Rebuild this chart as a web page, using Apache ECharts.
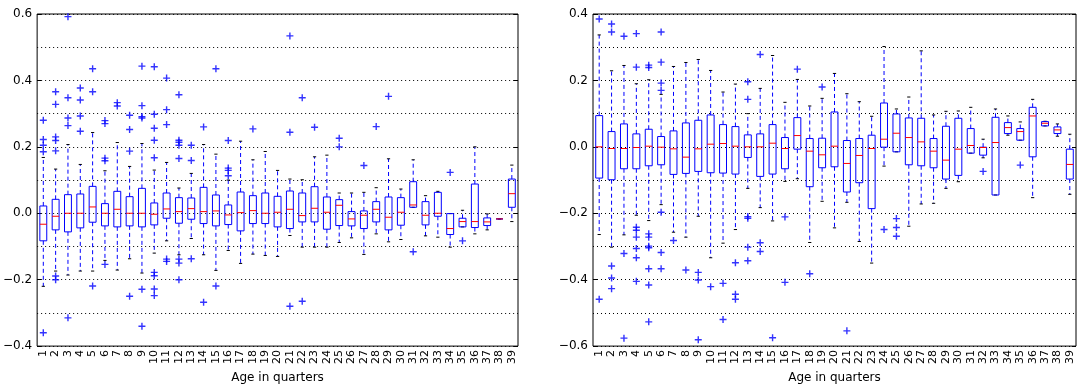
<!DOCTYPE html>
<html>
<head>
<meta charset="utf-8">
<script src="https://cdn.jsdelivr.net/npm/echarts@6/dist/echarts.min.js"></script>
<style>
  html, body { margin: 0; padding: 0; background: #fff; }
  #main { width: 1078px; height: 389px; }
</style>
</head>
<body>
<div id="main"></div>
<script>
// age categories 1..39
const ages = ['1','2','3','4','5','6','7','8','9','10','11','12','13','14','15','16','17','18','19','20',
  '21','22','23','24','25','26','27','28','29','30','31','32','33','34','35','36','37','38','39'];

// [lower whisker, q1, median, q3, upper whisker] per age
const leftBoxes = [
  [-0.220, -0.083, -0.033, 0.022, 0.168],
  [-0.174, -0.050, -0.009, 0.042, 0.133],
  [-0.186, -0.056, 0.000, 0.056, 0.207],
  [-0.174, -0.044, 0.000, 0.058, 0.147],
  [-0.174, -0.027, 0.019, 0.081, 0.243],
  [-0.142, -0.038, 0.000, 0.029, 0.128],
  [-0.171, -0.041, 0.012, 0.066, 0.213],
  [-0.137, -0.038, 0.000, 0.050, 0.141],
  [-0.180, -0.041, 0.000, 0.075, 0.210],
  [-0.120, -0.035, -0.003, 0.031, 0.130],
  [-0.083, -0.015, 0.013, 0.061, 0.153],
  [-0.125, -0.030, 0.005, 0.047, 0.076],
  [-0.076, -0.018, 0.014, 0.046, 0.120],
  [-0.125, -0.031, 0.005, 0.078, 0.207],
  [-0.172, -0.038, 0.007, 0.055, 0.178],
  [-0.112, -0.034, -0.005, 0.025, 0.100],
  [-0.151, -0.053, 0.002, 0.064, 0.217],
  [-0.123, -0.031, 0.008, 0.053, 0.161],
  [-0.127, -0.031, 0.000, 0.061, 0.186],
  [-0.130, -0.041, 0.003, 0.051, 0.129],
  [-0.067, -0.046, 0.012, 0.067, 0.103],
  [-0.102, -0.026, -0.007, 0.061, 0.101],
  [-0.102, -0.026, 0.015, 0.080, 0.170],
  [-0.102, -0.048, 0.003, 0.049, 0.175],
  [-0.088, -0.037, 0.024, 0.041, 0.061],
  [-0.074, -0.038, -0.017, 0.005, 0.061],
  [-0.124, -0.046, -0.006, 0.007, 0.063],
  [-0.062, -0.026, 0.012, 0.035, 0.077],
  [-0.086, -0.050, -0.012, 0.049, 0.164],
  [-0.079, -0.036, 0.003, 0.047, 0.073],
  [0.018, 0.018, 0.025, 0.095, 0.161],
  [-0.068, -0.035, -0.006, 0.035, 0.053],
  [-0.072, -0.009, 0.000, 0.063, 0.066],
  [-0.102, -0.064, -0.046, -0.001, -0.001],
  [-0.041, -0.041, -0.025, -0.015, 0.009],
  [-0.062, -0.043, -0.025, 0.088, 0.200],
  [-0.050, -0.037, -0.026, -0.014, -0.002],
  [-0.017, -0.017, -0.017, -0.017, -0.017],
  [-0.025, 0.018, 0.059, 0.103, 0.145]
];

// outliers: [age index, value]
const leftFliers = [
  [0, 0.280], [0, 0.222], [0, 0.205], [0, 0.185], [0, -0.360],
  [1, 0.366], [1, 0.328], [1, 0.230], [1, 0.219], [1, 0.188], [1, -0.189], [1, -0.200],
  [2, 0.592], [2, 0.348], [2, 0.287], [2, 0.264], [2, -0.315],
  [3, 0.377], [3, 0.341], [3, 0.293], [3, 0.247],
  [4, 0.435], [4, 0.366], [4, -0.219],
  [5, 0.279], [5, 0.270], [5, 0.166], [5, 0.158], [5, -0.154],
  [6, 0.333], [6, 0.323],
  [7, 0.295], [7, 0.252], [7, 0.187], [7, -0.250],
  [8, 0.443], [8, 0.324], [8, 0.291], [8, 0.287], [8, -0.229], [8, -0.340],
  [9, 0.441], [9, 0.298], [9, 0.256], [9, 0.220], [9, 0.167], [9, -0.178], [9, -0.188], [9, -0.228], [9, -0.248],
  [10, 0.407], [10, 0.312], [10, 0.267], [10, -0.138], [10, -0.145],
  [11, 0.357], [11, 0.220], [11, 0.214], [11, 0.205], [11, 0.165], [11, -0.138], [11, -0.150], [11, -0.200],
  [12, 0.205], [12, 0.159], [12, -0.137],
  [13, 0.260], [13, -0.268],
  [14, 0.435], [14, -0.219],
  [15, 0.219], [15, 0.136], [15, 0.129], [15, 0.113],
  [17, 0.254],
  [20, 0.534], [20, 0.244], [20, -0.280],
  [21, 0.348], [21, -0.265],
  [22, 0.259],
  [24, 0.226], [24, 0.200],
  [26, 0.144],
  [27, 0.261],
  [28, 0.352],
  [30, -0.116],
  [33, 0.123],
  [34, -0.083]
];

const rightBoxes = [
  [-0.264, -0.094, 0.000, 0.094, 0.337],
  [-0.302, -0.099, -0.005, 0.046, 0.229],
  [-0.265, -0.066, -0.005, 0.069, 0.245],
  [-0.206, -0.066, -0.002, 0.039, 0.190],
  [-0.222, -0.057, 0.002, 0.053, 0.202],
  [-0.174, -0.054, -0.001, 0.031, 0.158],
  [-0.257, -0.083, -0.006, 0.048, 0.242],
  [-0.272, -0.080, -0.031, 0.072, 0.254],
  [-0.209, -0.074, -0.006, 0.080, 0.263],
  [-0.334, -0.078, 0.008, 0.096, 0.230],
  [-0.290, -0.079, 0.010, 0.067, 0.165],
  [-0.249, -0.082, 0.002, 0.061, 0.189],
  [-0.125, -0.032, 0.000, 0.036, 0.100],
  [-0.183, -0.089, 0.000, 0.039, 0.176],
  [-0.223, -0.082, 0.011, 0.067, 0.275],
  [-0.104, -0.066, -0.005, 0.028, 0.134],
  [-0.096, -0.007, 0.034, 0.088, 0.203],
  [-0.288, -0.120, -0.013, 0.025, 0.123],
  [-0.164, -0.063, -0.024, 0.026, 0.146],
  [-0.244, -0.060, 0.002, 0.105, 0.221],
  [-0.167, -0.136, -0.050, 0.019, 0.160],
  [-0.285, -0.108, -0.026, 0.025, 0.136],
  [-0.350, -0.186, -0.005, 0.035, 0.092],
  [-0.058, -0.001, 0.023, 0.132, 0.302],
  [-0.015, -0.015, 0.041, 0.099, 0.114],
  [-0.239, -0.054, 0.028, 0.087, 0.150],
  [-0.172, -0.057, 0.015, 0.086, 0.289],
  [-0.170, -0.063, -0.013, 0.025, 0.096],
  [-0.125, -0.097, -0.040, 0.062, 0.107],
  [-0.105, -0.086, -0.007, 0.086, 0.108],
  [-0.019, -0.019, 0.004, 0.055, 0.119],
  [-0.033, -0.025, -0.002, -0.001, 0.023],
  [-0.145, -0.145, 0.013, 0.089, 0.114],
  [0.035, 0.040, 0.058, 0.073, 0.093],
  [0.020, 0.020, 0.046, 0.055, 0.075],
  [-0.153, -0.030, 0.093, 0.119, 0.143],
  [0.063, 0.063, 0.071, 0.076, 0.077],
  [0.032, 0.040, 0.051, 0.060, 0.069],
  [-0.143, -0.097, -0.053, -0.007, 0.038]
];

const rightFliers = [
  [0, 0.385], [0, -0.459],
  [1, 0.370], [1, 0.346], [1, -0.359], [1, -0.395], [1, -0.427],
  [2, 0.333], [2, -0.321], [2, -0.576],
  [3, 0.341], [3, 0.240], [3, -0.242], [3, -0.251], [3, -0.272], [3, -0.306], [3, -0.334], [3, -0.405],
  [4, 0.246], [4, 0.239], [4, -0.262], [4, -0.272], [4, -0.299], [4, -0.304], [4, -0.367], [4, -0.416], [4, -0.527],
  [5, 0.346], [5, 0.255], [5, 0.192], [5, 0.170], [5, -0.197], [5, -0.318], [5, -0.367],
  [6, -0.282],
  [7, -0.371],
  [8, -0.378], [8, -0.401], [8, -0.581],
  [9, -0.421],
  [10, -0.411], [10, -0.520],
  [11, -0.349], [11, -0.444], [11, -0.459],
  [12, 0.196], [12, 0.143], [12, -0.210], [12, -0.215], [12, -0.302], [12, -0.343],
  [13, 0.278], [13, -0.289], [13, -0.315],
  [14, -0.575],
  [15, -0.211], [15, -0.408],
  [16, 0.234],
  [17, -0.382],
  [18, 0.180],
  [20, -0.554],
  [23, -0.249],
  [24, -0.216], [24, -0.243], [24, -0.269],
  [31, -0.074],
  [34, -0.055]
];

const leftRange = [-0.4, 0.6];
const rightRange = [-0.6, 0.4];

(function() {
    let chart = echarts.init(document.getElementById('main'), null, {renderer: 'canvas'});
    let font = 'DejaVu Sans';
    let blue = '#0000ff';
    let plus = 'path://M4,0H6V4H10V6H6V10H4V6H0V4H4Z';

    function fmt(v) {
        if (Math.abs(v) < 1e-9) return '0.0';
        return (v < 0 ? '\u2212' : '') + Math.abs(v).toFixed(1);
    }

    // box, dashed whiskers, black caps, red median
    function renderBox(params, api) {
        let i = api.value(0);
        let bw = api.size([1, 0])[0];
        let x = api.coord([i, 0])[0];
        let yLow = api.coord([i, api.value(1)])[1];
        let yQ1 = api.coord([i, api.value(2)])[1];
        let yMed = api.coord([i, api.value(3)])[1];
        let yQ3 = api.coord([i, api.value(4)])[1];
        let yHigh = api.coord([i, api.value(5)])[1];
        let hb = bw * 0.28, hc = bw * 0.13;
        let dash = {stroke: blue, lineWidth: 1, lineDash: [4, 3]};
        let solid = function(c) { return {stroke: c, lineWidth: 1}; };
        return {
            type: 'group',
            children: [
                {type: 'line', shape: {x1: x, y1: yQ3, x2: x, y2: yHigh}, style: dash},
                {type: 'line', shape: {x1: x, y1: yQ1, x2: x, y2: yLow}, style: dash},
                {type: 'line', shape: {x1: x - hc, y1: yHigh, x2: x + hc, y2: yHigh}, style: solid('#000')},
                {type: 'line', shape: {x1: x - hc, y1: yLow, x2: x + hc, y2: yLow}, style: solid('#000')},
                {type: 'rect', shape: {x: x - hb, y: yQ3, width: hb * 2, height: yQ1 - yQ3},
                    style: {fill: 'none', stroke: blue, lineWidth: 1}},
                {type: 'line', shape: {x1: x - hb, y1: yMed, x2: x + hb, y2: yMed}, style: solid('#ff0000')}
            ]
        };
    }

    function gridOpt(left) {
        return {left: left, top: 14, width: 483, height: 340, show: true,
            borderColor: '#000', borderWidth: 1, backgroundColor: 'transparent'};
    }

    function xAxes(g) {
        return [{
            type: 'category', gridIndex: g, data: ages, position: 'bottom',
            name: 'Age in quarters', nameLocation: 'middle', nameGap: 24,
            nameTextStyle: {fontFamily: font, fontSize: 12, color: '#000'},
            axisLine: {show: false},
            axisTick: {inside: true, alignWithLabel: true, length: 4, lineStyle: {color: '#000'}},
            axisLabel: {rotate: 90, fontFamily: font, fontSize: 11, color: '#000', margin: 4, interval: 0},
            splitLine: {show: false}
        }, {
            type: 'category', gridIndex: g, data: ages, position: 'top',
            axisLine: {show: false},
            axisTick: {inside: true, alignWithLabel: true, length: 4, lineStyle: {color: '#000'}},
            axisLabel: {show: false},
            splitLine: {show: false}
        }];
    }

    function yAxes(g, range) {
        let dots = {color: '#000', width: 1, type: [1, 3]};
        return [{
            type: 'value', gridIndex: g, min: range[0], max: range[1], interval: 0.2, position: 'left',
            axisLine: {show: false},
            axisTick: {show: true, inside: true, length: 4, lineStyle: {color: '#000'}},
            axisLabel: {fontFamily: font, fontSize: 12, color: '#000', margin: 5, formatter: fmt},
            splitLine: {show: true, lineStyle: dots},
            minorTick: {show: false, splitNumber: 2},
            minorSplitLine: {show: true, lineStyle: dots}
        }, {
            type: 'value', gridIndex: g, min: range[0], max: range[1], interval: 0.2, position: 'right',
            axisLine: {show: false},
            axisTick: {show: true, inside: true, length: 4, lineStyle: {color: '#000'}},
            axisLabel: {show: false},
            splitLine: {show: false}
        }];
    }

    function boxSeries(boxes, g) {
        return {
            type: 'custom', xAxisIndex: g * 2, yAxisIndex: g * 2,
            renderItem: renderBox,
            encode: {x: 0, y: [1, 2, 3, 4, 5]},
            data: boxes.map(function(b, i) { return [i].concat(b); }),
            z: 3
        };
    }

    function flierSeries(fliers, g) {
        return {
            type: 'scatter', xAxisIndex: g * 2, yAxisIndex: g * 2,
            symbol: plus, symbolSize: 7,
            itemStyle: {color: blue},
            data: fliers,
            z: 4
        };
    }

    let option = {
        animation: false,
        backgroundColor: '#fff',
        grid: [gridOpt(35), gridOpt(593)],
        xAxis: xAxes(0).concat(xAxes(1)),
        yAxis: yAxes(0, leftRange).concat(yAxes(1, rightRange)),
        series: [
            boxSeries(leftBoxes, 0), flierSeries(leftFliers, 0),
            boxSeries(rightBoxes, 1), flierSeries(rightFliers, 1)
        ]
    };
    chart.setOption(option);
})();
</script>
</body>
</html>
